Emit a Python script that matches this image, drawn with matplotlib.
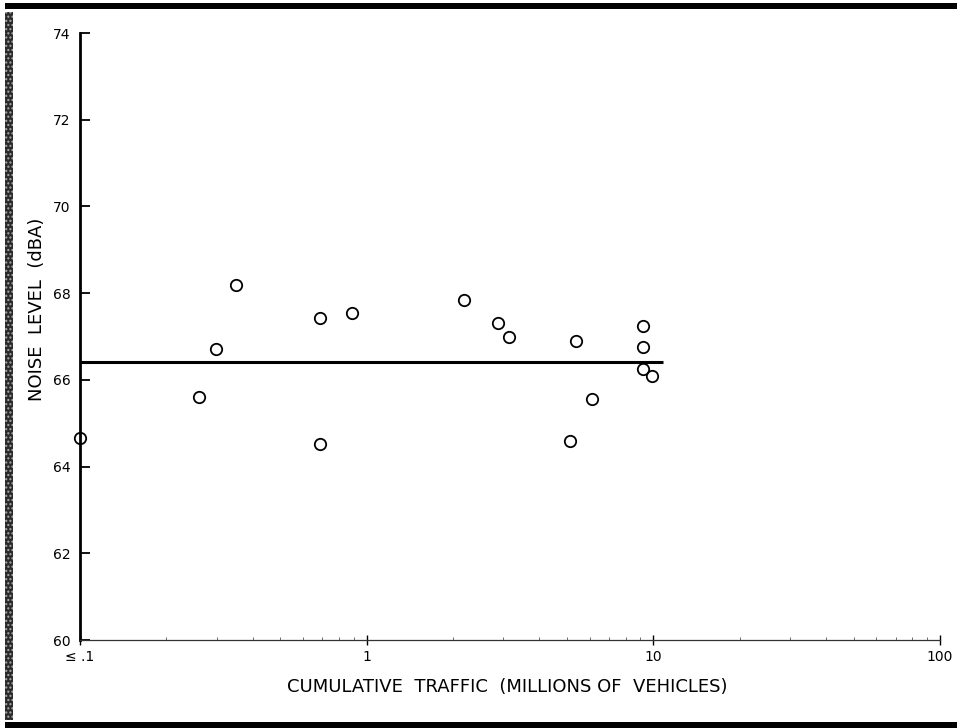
import matplotlib
matplotlib.use("Agg")
import matplotlib.pyplot as plt
from matplotlib.patches import Rectangle
from matplotlib.ticker import FixedLocator, NullFormatter, LogLocator

# Cumulative traffic (millions of vehicles) and measured noise level (dBA)
traffic = [0.1, 0.26, 0.297, 0.35, 0.69, 0.69, 0.89, 2.18, 2.87, 3.13,
           5.13, 5.37, 6.11, 9.23, 9.23, 9.2, 9.9]
noise = [64.65, 65.6, 66.72, 68.18, 67.43, 64.53, 67.55, 67.85, 67.32, 67.0,
         64.6, 66.9, 65.57, 67.25, 66.76, 66.24, 66.1]

# Average level drawn as a horizontal line
mean_level = 66.42
mean_span = [0.1, 10.8]

y_ticks = [60, 62, 64, 66, 68, 70, 72, 74]
x_ticks = [0.1, 1, 10, 100]
x_tick_labels = ["\u2264 .1", "1", "10", "100"]

W, H = 957, 728
fig = plt.figure(figsize=(W / 100, H / 100), dpi=100)
fig.patch.set_facecolor("white")

ax = fig.add_axes([80 / W, 1 - 640 / H, (940 - 80) / W, (640 - 33) / H])
ax.set_xscale("log")
ax.set_xlim(0.1, 100)
ax.set_ylim(60, 74)

ax.plot(mean_span, [mean_level, mean_level], color="black", lw=2.2,
        solid_capstyle="butt", zorder=2)
ax.plot(traffic, noise, linestyle="none", marker="o", markersize=8.2,
        markerfacecolor="none", markeredgecolor="black", markeredgewidth=1.3,
        clip_on=False, zorder=2.2)

for side in ("top", "right"):
    ax.spines[side].set_visible(False)
ax.spines["left"].set_linewidth(2.0)
ax.spines["bottom"].set_linewidth(0.9)
ax.spines["bottom"].set_color("#333333")

ax.set_yticks(y_ticks)
ax.set_yticklabels([str(v) for v in y_ticks])
ax.tick_params(axis="y", direction="in", length=7, width=1.3, pad=7,
               labelsize=10, colors="black")

ax.xaxis.set_major_locator(FixedLocator(x_ticks))
ax.set_xticklabels(x_tick_labels)
ax.xaxis.set_minor_locator(LogLocator(base=10, subs=range(2, 10)))
ax.xaxis.set_minor_formatter(NullFormatter())
ax.tick_params(axis="x", which="major", direction="inout", length=7,
               width=1.0, pad=4, labelsize=10)
ax.tick_params(axis="x", which="minor", direction="in", length=2.5,
               width=0.6, color="#555555")

ax.set_xlabel("CUMULATIVE  TRAFFIC  (MILLIONS OF  VEHICLES)", fontsize=13)
ax.xaxis.set_label_coords(0.497, -0.062)
ax.set_ylabel("NOISE  LEVEL  (dBA)", fontsize=13)
ax.yaxis.set_label_coords(-0.04, 0.544)

# Page frame: heavy rules top and bottom, textured strip on the left
fig.add_artist(Rectangle((5 / W, 1 - 9 / H), 1 - 5 / W, 6 / H,
                         transform=fig.transFigure, facecolor="black",
                         edgecolor="none"))
fig.add_artist(Rectangle((5 / W, 0), 1 - 5 / W, 6 / H,
                         transform=fig.transFigure, facecolor="black",
                         edgecolor="none"))
fig.add_artist(Rectangle((5 / W, 8 / H), 8 / W, (716 - 8) / H,
                         transform=fig.transFigure, facecolor="#2a2a2a",
                         edgecolor="#aaaaaa", hatch="....", lw=0))

fig.savefig("out.png", dpi=100, facecolor="white")
